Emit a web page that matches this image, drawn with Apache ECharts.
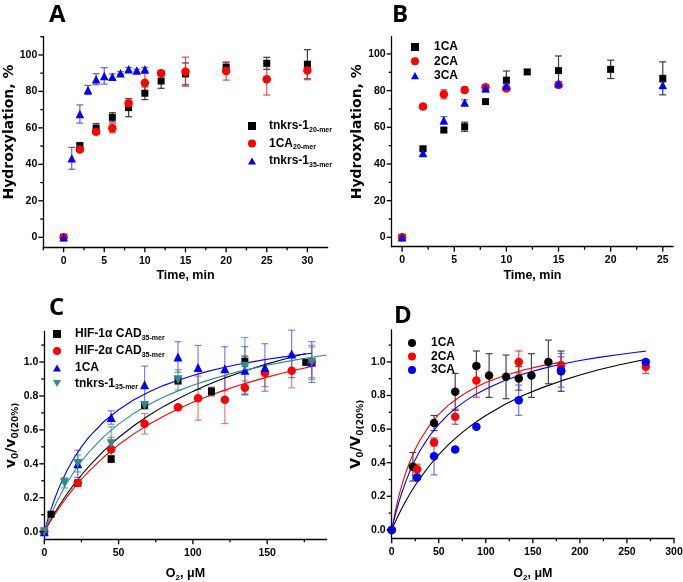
<!DOCTYPE html>
<html><head><meta charset="utf-8">
<script src="https://cdn.jsdelivr.net/npm/echarts@6/dist/echarts.min.js"></script>
<style>html,body{margin:0;padding:0;background:#fff}#c{width:683px;height:582px}</style>
</head><body><div id="c"></div>
<script>
// ---------- Panel A: hydroxylation vs time ----------
const aT20X = [0, 2, 4, 6, 8, 10, 12, 15, 20, 25, 30];
const aT20Y = [0, 50.3, 59.8, 65.8, 71.1, 79.0, 85.7, 89.6, 93.2, 95.4, 94.9];
const aT20E = [0, 1, 2.5, 2.5, 5, 3.5, 4, 6, 2.5, 3.3, 8];
const aC20X = [0, 2, 4, 6, 8, 10, 12, 15, 20, 25, 30];
const aC20Y = [0, 48.1, 57.9, 59.8, 73.5, 84.8, 90.0, 90.8, 91.2, 86.7, 91.4];
const aC20E = [0, 1, 1.5, 2.5, 2.5, 5, 1.5, 8, 5, 8.7, 5];
const aT35X = [0, 1, 2, 3, 4, 5, 6, 7, 8, 9, 10];
const aT35Y = [0, 43.3, 67.6, 80.8, 86.7, 88.5, 88.1, 90.0, 92.1, 91.4, 92.1];
const aT35E = [0, 6, 5, 2.5, 3, 4.5, 1.5, 0.8, 1, 0.8, 1];
// ---------- Panel B ----------
const b1X = [0, 2, 4, 6, 8, 10, 12, 15, 20, 25];
const b1Y = [0, 48.3, 58.5, 60.3, 74.0, 85.7, 90.2, 90.9, 91.6, 86.7];
const b1E = [0, 1, 1, 2.5, 0.8, 5, 1.2, 8, 5, 9];
const b2X = [0, 2, 4, 6, 8, 10, 15];
const b2Y = [0, 71.3, 78.0, 80.4, 81.9, 81.2, 83.1];
const b2E = [0, 1, 2.5, 1.5, 1, 1, 1];
const b3X = [0, 2, 4, 6, 8, 10, 15, 25];
const b3Y = [0, 46.0, 63.8, 73.5, 81.3, 82.6, 84.0, 83.1];
const b3E = [0, 1.5, 2, 1.5, 2, 1, 1, 1.5];
// ---------- Panel C: v0/v0(20%) vs O2 ----------
const cH1X = [0, 4.5, 22.5, 45, 67.5, 90, 112.5, 135, 176];
const cH1Y = [0, 0.103, 0.286, 0.428, 0.742, 0.89, 0.826, 1.005, 0.998];
const cH1E = [0, 0.01, 0.01, 0.02, 0.01, 0.02, 0.025, 0.03, 0.01];
const cH2X = [0, 22.5, 45, 67.5, 90, 103.5, 121.5, 135, 148.5, 166.5, 180];
const cH2Y = [0, 0.287, 0.486, 0.636, 0.733, 0.787, 0.777, 0.849, 0.935, 0.948, 0.998];
const cH2E = [0, 0.02, 0.07, 0.06, 0.01, 0.13, 0.14, 0.04, 0.08, 0.1, 0.09];
const c1X = [0, 22.5, 45, 67.5, 90, 103.5, 121.5, 135, 148.5, 166.5, 180];
const c1Y = [0, 0.4, 0.673, 0.866, 1.03, 0.968, 0.96, 0.951, 0.968, 1.048, 1.0];
const c1E = [0, 0.08, 0.04, 0.11, 0.09, 0.13, 0.13, 0.14, 0.14, 0.14, 0.12];
const cTX = [0, 13.5, 22.5, 45, 67.5, 90, 135, 180];
const cTY = [0, 0.288, 0.402, 0.518, 0.744, 0.895, 0.975, 0.998];
const cTE = [0, 0.03, 0.05, 0.1, 0.01, 0.06, 0.17, 0.1];
// fitted curves: O2 positions and curve heights
const cFitX = [0, 2.5, 5, 7.5, 10, 15, 20, 25, 30, 40, 50, 60, 70, 80, 90, 100, 110, 120, 130, 140, 150, 160, 170, 180, 190];
const cFitH1 = [0, 0.041, 0.080, 0.117, 0.153, 0.219, 0.279, 0.334, 0.385, 0.476, 0.555, 0.623, 0.683, 0.737, 0.784, 0.827, 0.866, 0.901, 0.933, 0.962, 0.989, 1.014, 1.037];
const cFitH1End = [176, 1.050];
const cFitH2 = [0, 0.038, 0.074, 0.108, 0.141, 0.202, 0.258, 0.309, 0.356, 0.440, 0.512, 0.575, 0.630, 0.679, 0.723, 0.763, 0.798, 0.830, 0.860, 0.886, 0.911, 0.934, 0.955];
const cFitH2End = [181, 0.976];
const cFit1 = [0, 0.077, 0.145, 0.206, 0.261, 0.356, 0.434, 0.500, 0.557, 0.648, 0.719, 0.776, 0.822, 0.861, 0.893, 0.921, 0.945, 0.966, 0.985, 1.001, 1.016, 1.029, 1.041, 1.052];
const cFitT = [0, 0.057, 0.110, 0.158, 0.203, 0.284, 0.353, 0.415, 0.469, 0.560, 0.634, 0.696, 0.748, 0.792, 0.830, 0.863, 0.892, 0.918, 0.942, 0.962, 0.981, 0.998, 1.014, 1.028, 1.041];
// ---------- Panel D ----------
const d1X = [0, 22.5, 45, 67.5, 90, 103.5, 121.5, 135, 148.5, 166.5, 180];
const d1Y = [0, 0.376, 0.636, 0.822, 0.975, 0.919, 0.911, 0.902, 0.919, 1.0, 0.945];
const d1E = [0, 0.085, 0.045, 0.11, 0.09, 0.13, 0.13, 0.07, 0.13, 0.13, 0.12];
const d2X = [0, 27, 45, 67.5, 90, 135, 180, 270];
const d2Y = [0, 0.361, 0.52, 0.674, 0.89, 1.0, 0.981, 0.971];
const d2E = [0, 0.03, 0.02, 0.045, 0.1, 0.065, 0.05, 0.04];
const d3X = [0, 27, 45, 67.5, 90, 135, 180, 270];
const d3Y = [0, 0.312, 0.438, 0.478, 0.614, 0.772, 0.95, 1.0];
const d3E = [0, 0.01, 0.11, 0.01, 0.01, 0.09, 0.1, 0.01];
const dFitX = [0, 2.5, 5, 7.5, 10, 15, 20, 25, 30, 40, 50, 60, 70, 80, 90, 100, 120, 140, 160, 180, 200, 220, 240, 260, 270];
const dFit1 = [0, 0.032, 0.062, 0.092, 0.120, 0.172, 0.221, 0.266, 0.307, 0.382, 0.448, 0.506, 0.557, 0.603, 0.644, 0.681, 0.746, 0.801, 0.847, 0.887, 0.922, 0.953, 0.980, 1.004, 1.015];
const dFit2 = [0, 0.075, 0.141, 0.199, 0.252, 0.342, 0.417, 0.480, 0.534, 0.621, 0.688, 0.741, 0.784, 0.820, 0.851, 0.877, 0.919, 0.952, 0.978, 0.999];
const dFit3 = [0, 0.060, 0.114, 0.163, 0.209, 0.289, 0.358, 0.418, 0.471, 0.558, 0.628, 0.686, 0.734, 0.774, 0.809, 0.839, 0.889, 0.928, 0.960, 0.986, 1.008, 1.027, 1.043, 1.058, 1.064];
// ---------- ticks ----------
const abYMajor = [0, 20, 40, 60, 80, 100];
const aYMinor = [10, 30, 50, 70, 90, 110];
const bYMinor = [10, 30, 50, 70, 90];
const aXMajor = [0, 5, 10, 15, 20, 25, 30];
const aXMinor = [-2.5, 2.5, 7.5, 12.5, 17.5, 22.5, 27.5];
const bXMajor = [0, 5, 10, 15, 20, 25];
const bXMinor = [2.5, 7.5, 12.5, 17.5, 22.5];
const cdYMajor = [0, 0.2, 0.4, 0.6, 0.8, 1.0];
const cdYMinor = [0.1, 0.3, 0.5, 0.7, 0.9, 1.1];
const cXMajor = [0, 50, 100, 150];
const cXMinor = [25, 75, 125, 175];
const dXMajor = [0, 50, 100, 150, 200, 250, 300];
const dXMinor = [25, 75, 125, 175, 225, 275];
// ---------- legend texts ----------
const legendText = {
  A_t20: '{b|tnkrs-1}{s|20-mer}', A_c20: '{b|1CA}{s|20-mer}', A_t35: '{b|tnkrs-1}{s|35-mer}',
  B_1: '{b|1CA}', B_2: '{b|2CA}', B_3: '{b|3CA}',
  C_h1: '{b|HIF-1\u03b1 CAD}{s|35-mer}', C_h2: '{b|HIF-2\u03b1 CAD}{s|35-mer}', C_1: '{b|1CA}', C_t: '{b|tnkrs-1}{s|35-mer}',
  D_1: '{b|1CA}', D_2: '{b|2CA}', D_3: '{b|3CA}'
};

const FONT = "'Liberation Sans', Arial, sans-serif";
const VFONT = "'DejaVu Sans', sans-serif";
const BLACK = '#000000', RED = '#ff0000', BLUE = '#0000ff', TEAL = '#2e8b8b';

const grids = [
  {left: 43.3, top: 36.7, width: 284.4, height: 210.6},
  {left: 391.7, top: 36.7, width: 281.5, height: 210},
  {left: 44.3, top: 331.5, width: 282.3, height: 207.8},
  {left: 391.7, top: 330, width: 282.3, height: 208.3}
];
const xRanges = [[-2.5, 32.5], [-1, 26], [0, 190], [0, 300]];
const yRanges = [[-5.5, 110], [-5.1, 109.4], [-0.045, 1.18], [-0.05, 1.19]];

const intFmt = v => String(Math.round(v));
const decFmt = v => v.toFixed(1);

const richName = {
  b: {fontFamily: FONT, fontWeight: 'bold', fontSize: 12.5, color: '#000', lineHeight: 16},
  s: {fontFamily: FONT, fontWeight: 'bold', fontSize: 8, color: '#000', verticalAlign: 'bottom', lineHeight: 7}
};
const richVName = {
  b: {fontFamily: VFONT, fontWeight: 'bold', fontSize: 14, color: '#000', lineHeight: 17},
  s: {fontFamily: VFONT, fontWeight: 'bold', fontSize: 9, color: '#000', verticalAlign: 'bottom', lineHeight: 8}
};
const timeName = {fontFamily: FONT, fontWeight: 'bold', fontSize: 12.5, color: '#000'};
const hydName = {fontFamily: VFONT, fontWeight: 'bold', fontSize: 14, color: '#000', padding: [0, 0, 0, 20]};

function mainAxis(p, dim, labels, fmt, name, nameGap, nameStyle) {
  const r = dim === 'x' ? xRanges[p] : yRanges[p];
  return {
    type: 'value', gridIndex: p, min: r[0], max: r[1],
    axisLine: {show: true, onZero: false, lineStyle: {color: '#000', width: 1.3}},
    axisTick: {show: false},
    axisLabel: {show: true, customValues: labels, formatter: fmt, fontFamily: FONT, fontWeight: 'bold',
      fontSize: 10.5, color: '#000', margin: dim === 'x' ? 8 : 6},
    splitLine: {show: false},
    name: name, nameLocation: 'middle', nameGap: nameGap, nameTextStyle: nameStyle
  };
}

const xAxis = [
  mainAxis(0, 'x', aXMajor, intFmt, 'Time, min', 22, timeName),
  mainAxis(1, 'x', bXMajor, intFmt, 'Time, min', 22, timeName),
  mainAxis(2, 'x', cXMajor, intFmt, '{b|O}{s|2}{b|, \u03bcM}', 26, {rich: richName}),
  mainAxis(3, 'x', dXMajor, intFmt, '{b|O}{s|2}{b|, \u03bcM}', 27, {rich: richName})
];
const yAxis = [
  mainAxis(0, 'y', abYMajor, intFmt, 'Hydroxylation, %', 22, hydName),
  mainAxis(1, 'y', abYMajor, intFmt, 'Hydroxylation, %', 24, hydName),
  mainAxis(2, 'y', cdYMajor, decFmt, '{b|v}{s|0}{b|/v}{s|0(20%)}', 22, {rich: richVName}),
  mainAxis(3, 'y', cdYMajor, decFmt, '{b|V}{s|0}{b|/V}{s|0(20%)}', 27, {rich: richVName})
];

const series = [];
function errBars(p, xs, ys, es, color) {
  series.push({
    type: 'custom', xAxisIndex: p, yAxisIndex: p, z: 2, silent: true, clip: false,
    data: xs.map((x, i) => [x, ys[i], es[i]]),
    encode: {x: 0, y: 1},
    renderItem: function (params, api) {
      const x = api.value(0), y = api.value(1), e = api.value(2);
      if (!e) return null;
      const t = api.coord([x, y + e]), b = api.coord([x, y - e]);
      const w = 3.5, st = {stroke: color, lineWidth: 1.2};
      return {type: 'group', children: [
        {type: 'line', shape: {x1: t[0], y1: t[1], x2: b[0], y2: b[1]}, style: st},
        {type: 'line', shape: {x1: t[0] - w, y1: t[1], x2: t[0] + w, y2: t[1]}, style: st},
        {type: 'line', shape: {x1: b[0] - w, y1: b[1], x2: b[0] + w, y2: b[1]}, style: st}
      ]};
    }
  });
}
function points(p, name, xs, ys, symbol, size, color, rot) {
  series.push({
    type: 'scatter', name: name, xAxisIndex: p, yAxisIndex: p, z: 4,
    data: xs.map((x, i) => [x, ys[i]]), symbol: symbol, symbolSize: size, symbolRotate: rot || 0,
    itemStyle: {color: color, opacity: 1}, emphasis: {disabled: true}
  });
}
function curve(p, xs, ys, end, color) {
  const pts = ys.map((y, i) => [xs[i], y]);
  if (end) pts.push(end);
  series.push({
    type: 'line', xAxisIndex: p, yAxisIndex: p, z: 3, silent: true, data: pts,
    smooth: false, showSymbol: false, symbol: 'none',
    lineStyle: {color: color, width: 1.1}
  });
}

// A
errBars(0, aT20X, aT20Y, aT20E, 'rgba(40,40,40,0.9)');
errBars(0, aC20X, aC20Y, aC20E, 'rgba(225,50,50,0.85)');
errBars(0, aT35X, aT35Y, aT35E, 'rgba(60,60,225,0.8)');
points(0, 'A_t20', aT20X, aT20Y, 'rect', 7, BLACK);
points(0, 'A_c20', aC20X, aC20Y, 'circle', 8.5, RED);
points(0, 'A_t35', aT35X, aT35Y, 'triangle', 8.5, BLUE);
// B
errBars(1, b1X, b1Y, b1E, 'rgba(40,40,40,0.9)');
errBars(1, b2X, b2Y, b2E, 'rgba(225,50,50,0.85)');
errBars(1, b3X, b3Y, b3E, 'rgba(60,60,225,0.8)');
points(1, 'B_1', b1X, b1Y, 'rect', 7, BLACK);
points(1, 'B_2', b2X, b2Y, 'circle', 8.5, RED);
points(1, 'B_3', b3X, b3Y, 'triangle', 8.5, BLUE);
// C
errBars(2, cH1X, cH1Y, cH1E, 'rgba(40,40,40,0.85)');
errBars(2, cH2X, cH2Y, cH2E, 'rgba(230,70,70,0.7)');
errBars(2, c1X, c1Y, c1E, 'rgba(70,70,235,0.7)');
errBars(2, cTX, cTY, cTE, 'rgba(50,140,140,0.7)');
curve(2, cFitX, cFitH1, cFitH1End, BLACK);
curve(2, cFitX, cFitH2, cFitH2End, RED);
curve(2, cFitX, cFit1, null, BLUE);
curve(2, cFitX, cFitT, null, TEAL);
points(2, 'C_h1', cH1X, cH1Y, 'rect', 7, BLACK);
points(2, 'C_h2', cH2X, cH2Y, 'circle', 8.5, RED);
points(2, 'C_1', c1X, c1Y, 'triangle', 9, BLUE);
points(2, 'C_t', cTX, cTY, 'triangle', 9, TEAL, 180);
// D
errBars(3, d1X, d1Y, d1E, 'rgba(40,40,40,0.85)');
errBars(3, d2X, d2Y, d2E, 'rgba(230,40,40,0.85)');
errBars(3, d3X, d3Y, d3E, 'rgba(70,70,235,0.75)');
curve(3, dFitX, dFit1, null, BLACK);
curve(3, dFitX, dFit2, null, RED);
curve(3, dFitX, dFit3, null, BLUE);
points(3, 'D_1', d1X, d1Y, 'circle', 8.5, BLACK);
points(3, 'D_2', d2X, d2Y, 'circle', 8.5, RED);
points(3, 'D_3', d3X, d3Y, 'circle', 8.5, BLUE);

const legRich = {
  b: {fontFamily: FONT, fontWeight: 'bold', fontSize: 12, color: '#000', lineHeight: 15},
  s: {fontFamily: FONT, fontWeight: 'bold', fontSize: 7, color: '#000', verticalAlign: 'bottom', lineHeight: 6}
};
function legend(left, top, gap, textPad, items) {
  return {
    show: true, orient: 'vertical', left: left, top: top, itemGap: gap, itemWidth: 8, itemHeight: 8,
    padding: 0, selectedMode: false, data: items,
    formatter: n => legendText[n],
    textStyle: {rich: legRich, padding: [0, 0, 0, textPad]}
  };
}
const downTri = 'path://M0,0L10,0L5,9Z';
const upTri = 'path://M5,0L10,9L0,9Z';

const option = {
  animation: false,
  backgroundColor: '#ffffff',
  grid: grids.map(g => Object.assign({outerBoundsMode: 'none', containLabel: false}, g)),
  title: [
    {text: 'A', left: 49, top: 3},
    {text: 'B', left: 392, top: 3},
    {text: 'C', left: 49, top: 296},
    {text: 'D', left: 394, top: 304}
  ].map(t => Object.assign({padding: 0, textStyle: {fontFamily: "'Open Sans', sans-serif", fontWeight: 'bold', fontSize: 24, color: '#000'}}, t)),
  legend: [
    legend(248, 120, 4, 8, [{name: 'A_t20', icon: 'rect'}, {name: 'A_c20', icon: 'circle'}, {name: 'A_t35', icon: upTri}]),
    legend(411, 41, 2.3, 10, [{name: 'B_1', icon: 'rect'}, {name: 'B_2', icon: 'circle'}, {name: 'B_3', icon: upTri}]),
    legend(53, 328, 3.5, 9, [{name: 'C_h1', icon: 'rect'}, {name: 'C_h2', icon: 'circle'}, {name: 'C_1', icon: upTri}, {name: 'C_t', icon: downTri}]),
    legend(408, 337, 1.5, 10, [{name: 'D_1', icon: 'circle'}, {name: 'D_2', icon: 'circle'}, {name: 'D_3', icon: 'circle'}])
  ],
  xAxis: xAxis,
  yAxis: yAxis,
  series: series
};
const chart = echarts.init(document.getElementById('c'), null, {renderer: 'canvas'});
chart.setOption(option);

// axis tick marks: positions come from the axes' own scales via convertToPixel
const MAJ = 5, MIN = 3;
const tickGfx = [];
[[0, aXMajor, aXMinor, abYMajor, aYMinor],
 [1, bXMajor, bXMinor, abYMajor, bYMinor],
 [2, cXMajor, cXMinor, cdYMajor, cdYMinor],
 [3, dXMajor, dXMinor, cdYMajor, cdYMinor]].forEach(([p, xm, xn, ym, yn]) => {
  const finder = {xAxisIndex: p, yAxisIndex: p};
  const addX = (vals, len) => vals.forEach(v => {
    const c = chart.convertToPixel(finder, [v, yRanges[p][0]]);
    if (c) tickGfx.push({type: 'line', silent: true, z: 100,
      shape: {x1: c[0], y1: c[1], x2: c[0], y2: c[1] + len}, style: {stroke: '#000', lineWidth: 1.3}});
  });
  const addY = (vals, len) => vals.forEach(v => {
    const c = chart.convertToPixel(finder, [xRanges[p][0], v]);
    if (c) tickGfx.push({type: 'line', silent: true, z: 100,
      shape: {x1: c[0] - len, y1: c[1], x2: c[0], y2: c[1]}, style: {stroke: '#000', lineWidth: 1.3}});
  });
  addX(xm, MAJ); addX(xn, MIN); addY(ym, MAJ); addY(yn, MIN);
});
chart.setOption({graphic: {elements: tickGfx}});
</script>
</body></html>
